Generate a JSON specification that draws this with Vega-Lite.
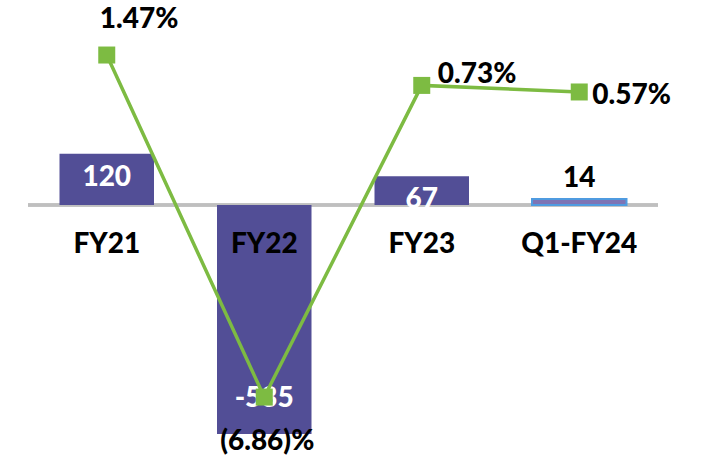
{
  "$schema": "https://vega.github.io/schema/vega-lite/v6.json",
  "width": 630,
  "height": 465,
  "autosize": "none",
  "padding": {"left": 28, "right": 49, "top": 0, "bottom": 0},
  "background": "white",
  "config": {"view": {"stroke": null}, "text": {"font": "Lato", "fontWeight": 900, "fontSize": 28}},
  "data": {
    "values": [
      {"period": "FY21", "pat": 120, "margin": 1.47, "pct": "1.47%"},
      {"period": "FY22", "pat": -535, "margin": -6.86, "pct": "(6.86)%"},
      {"period": "FY23", "pat": 67, "margin": 0.73, "pct": "0.73%"},
      {"period": "Q1-FY24", "pat": 14, "margin": 0.57, "pct": "0.57%"}
    ]
  },
  "encoding": {
    "x": {"field": "period", "type": "nominal", "sort": null, "axis": null,
          "scale": {"paddingInner": 0.4, "paddingOuter": 0.2}}
  },
  "layer": [
    {
      "mark": {"type": "rule", "color": "#bfbfbf", "strokeWidth": 3},
      "encoding": {"y": {"datum": 0, "type": "quantitative", "axis": null, "scale": {"domain": [-607.5, 479], "nice": false, "zero": false}}, "x": null}
    },
    {
      "mark": {"type": "bar"},
      "encoding": {
        "y": {"field": "pat", "type": "quantitative", "axis": null, "scale": {"domain": [-607.5, 479], "nice": false, "zero": false}},
        "y2": {"datum": 0},
        "color": {"condition": {"test": "datum.period === 'Q1-FY24'", "value": "#7d74b5"}, "value": "#524e96"},
        "stroke": {"condition": {"test": "datum.period === 'Q1-FY24'", "value": "#4f9be0"}, "value": null},
        "strokeWidth": {"value": 2}
      }
    },
    {
      "mark": {"type": "text", "color": "black", "baseline": "alphabetic", "dy": 48},
      "encoding": {
        "y": {"datum": 0, "type": "quantitative", "axis": null, "scale": {"domain": [-607.5, 479], "nice": false, "zero": false}},
        "text": {"field": "period"}
      }
    },
    {
      "transform": [{"filter": "datum.period === 'FY21' || datum.period === 'FY23'"}],
      "mark": {"type": "text", "color": "white", "baseline": "top", "dy": 10},
      "encoding": {
        "y": {"field": "pat", "type": "quantitative", "axis": null, "scale": {"domain": [-607.5, 479], "nice": false, "zero": false}},
        "text": {"field": "pat"}
      }
    },
    {
      "transform": [{"filter": "datum.period === 'FY22'"}],
      "mark": {"type": "text", "color": "white", "baseline": "alphabetic", "dy": -27},
      "encoding": {
        "y": {"field": "pat", "type": "quantitative", "axis": null, "scale": {"domain": [-607.5, 479], "nice": false, "zero": false}},
        "text": {"field": "pat"}
      }
    },
    {
      "transform": [{"filter": "datum.period === 'Q1-FY24'"}],
      "mark": {"type": "text", "color": "black", "baseline": "alphabetic", "dy": -12},
      "encoding": {
        "y": {"field": "pat", "type": "quantitative", "axis": null, "scale": {"domain": [-607.5, 479], "nice": false, "zero": false}},
        "text": {"field": "pat"}
      }
    },
    {
      "mark": {"type": "line", "color": "#7dbb42", "strokeWidth": 3.5},
      "encoding": {
        "y": {"field": "margin", "type": "quantitative", "axis": null, "scale": {"domain": [-8.514, 2.81], "nice": false, "zero": false}}
      }
    },
    {
      "mark": {"type": "point", "shape": "square", "filled": true, "size": 289, "color": "#7dbb42", "opacity": 1},
      "encoding": {
        "y": {"field": "margin", "type": "quantitative", "axis": null, "scale": {"domain": [-8.514, 2.81], "nice": false, "zero": false}}
      }
    },
    {
      "transform": [{"filter": "datum.period === 'FY21'"}],
      "mark": {"type": "text", "color": "black", "align": "left", "baseline": "alphabetic", "dx": -7, "dy": -27},
      "encoding": {
        "y": {"field": "margin", "type": "quantitative", "axis": null, "scale": {"domain": [-8.514, 2.81], "nice": false, "zero": false}},
        "text": {"field": "pct"}
      }
    },
    {
      "transform": [{"filter": "datum.period === 'FY22'"}],
      "mark": {"type": "text", "color": "black", "align": "center", "baseline": "alphabetic", "dx": 3, "dy": 53},
      "encoding": {
        "y": {"field": "margin", "type": "quantitative", "axis": null, "scale": {"domain": [-8.514, 2.81], "nice": false, "zero": false}},
        "text": {"field": "pct"}
      }
    },
    {
      "transform": [{"filter": "datum.period === 'FY23'"}],
      "mark": {"type": "text", "color": "black", "align": "left", "baseline": "alphabetic", "dx": 16, "dy": -2},
      "encoding": {
        "y": {"field": "margin", "type": "quantitative", "axis": null, "scale": {"domain": [-8.514, 2.81], "nice": false, "zero": false}},
        "text": {"field": "pct"}
      }
    },
    {
      "transform": [{"filter": "datum.period === 'Q1-FY24'"}],
      "mark": {"type": "text", "color": "black", "align": "left", "baseline": "alphabetic", "dx": 13, "dy": 12},
      "encoding": {
        "y": {"field": "margin", "type": "quantitative", "axis": null, "scale": {"domain": [-8.514, 2.81], "nice": false, "zero": false}},
        "text": {"field": "pct"}
      }
    }
  ],
  "resolve": {"scale": {"y": "independent"}}
}
